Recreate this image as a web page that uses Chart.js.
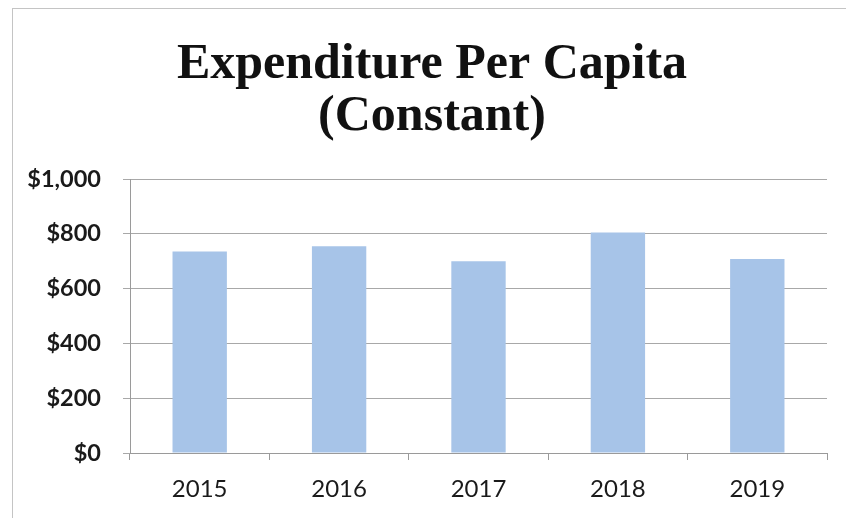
<!DOCTYPE html>
<html>
<head>
<meta charset="utf-8">
<script src="https://cdn.jsdelivr.net/npm/chart.js@4.4.1/dist/chart.umd.min.js"></script>
<style>
  html, body { margin: 0; padding: 0; background: #fff; overflow: hidden; }
  #wrap { position: relative; width: 846px; height: 518px; }
  #frame { position: absolute; left: 12px; top: 8px; width: 900px; height: 600px; border: 1px solid #c4c4c4; box-sizing: border-box; }
  canvas { position: absolute; left: 0; top: 0; }
</style>
</head>
<body>
<div id="wrap">
  <div id="frame"></div>
  <canvas id="chart" width="846" height="518"></canvas>
</div>
<script>
// Chart data
const years = ['2015', '2016', '2017', '2018', '2019'];
const perCapita = [735, 755, 700, 805, 708];
const titleLines = ['Expenditure Per Capita', '(Constant)'];

// centre the title a little right of the canvas middle
const titleShift = {
  id: 'titleShift',
  afterLayout(chart) {
    if (chart.titleBlock) chart.titleBlock.left = 37;
  }
};

const ctx = document.getElementById('chart').getContext('2d');
new Chart(ctx, {
  type: 'bar',
  data: {
    labels: years,
    datasets: [{
      data: perCapita,
      backgroundColor: '#a7c4e8',
      borderWidth: 0,
      categoryPercentage: 1,
      barPercentage: 0.39
    }]
  },
  options: {
    responsive: false,
    animation: false,
    layout: { padding: { left: 0, right: 19, top: 0, bottom: 0 } },
    plugins: {
      legend: { display: false },
      tooltip: { enabled: false },
      title: {
        display: true,
        text: titleLines,
        color: '#111',
        font: { family: '"Liberation Serif", serif', size: 50, weight: 'bold', lineHeight: 1.04 },
        padding: { top: 39, bottom: 36 }
      }
    },
    scales: {
      x: {
        grid: {
          display: true,
          offset: true,
          drawOnChartArea: false,
          drawTicks: true,
          tickLength: 7,
          color: '#9a9a9a'
        },
        border: { display: true, color: '#9a9a9a', width: 1 },
        ticks: {
          color: '#1a1a1a',
          padding: 15,
          font: { family: 'Lato, sans-serif', size: 24 }
        },
        afterFit: function (scale) { scale.height = 65; }
      },
      y: {
        min: 0,
        max: 1000,
        grid: {
          color: '#a8a8a8',
          tickLength: 7,
          drawTicks: true
        },
        border: { display: true, color: '#9a9a9a', width: 1 },
        ticks: {
          stepSize: 200,
          color: '#1a1a1a',
          padding: 22,
          font: { family: 'Lato, sans-serif', size: 23.5, weight: 'bold' },
          callback: function (v) { return '$' + v.toLocaleString('en-US'); }
        },
        afterFit: function (scale) { scale.width = 130; }
      }
    }
  },
  plugins: [titleShift]
});
</script>
</body>
</html>
